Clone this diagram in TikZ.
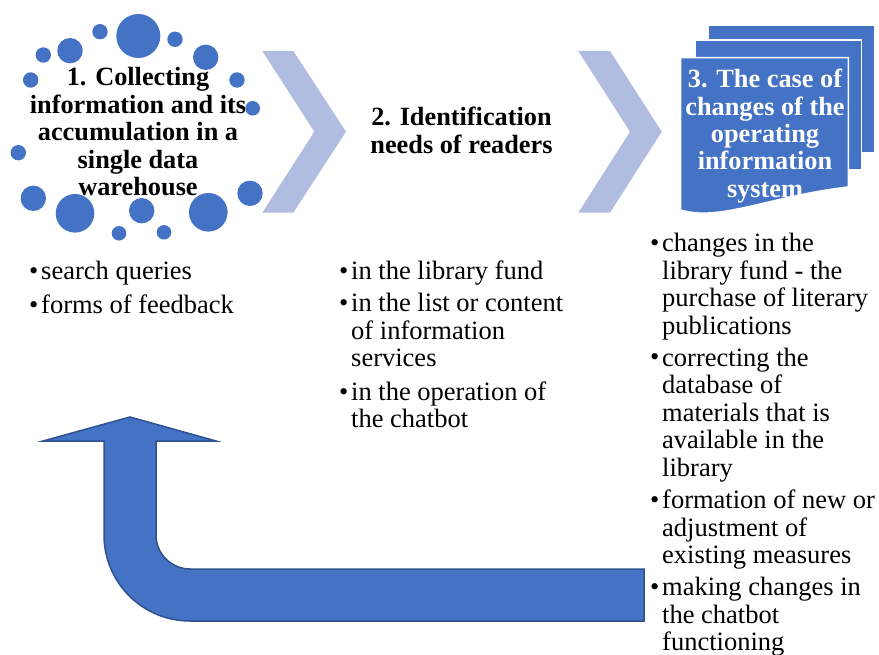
\documentclass[tikz,border=0pt]{standalone}
\usepackage{fontspec}
\setmainfont{Liberation Serif}
\definecolor{cblue}{RGB}{68,114,196}
\definecolor{cdark}{RGB}{47,82,143}
\definecolor{cchev}{RGB}{176,188,224}
% #1 name, #2 x of text, #3 first baseline, #4 number of extra lines, #5 text
\newcommand\myitem[5]{%
  \pgfmathsetmacro\lasty{#3+#4*27.5}%
  \node[itemtext] (#1) at (#2,\lasty) {#5};
  \node[bulletmark] (#1b) at (#2-2.5,#3) {•};}
\begin{document}
\begin{tikzpicture}[x=1pt,y=-1pt,
  title/.style={font=\fontsize{26.3}{27.4}\selectfont\bfseries, align=center, inner sep=0pt, anchor=base},
  itemtext/.style={font=\fontsize{26.5}{27.5}\selectfont, align=left, inner sep=0pt, anchor=base west},
  bulletmark/.style={font=\fontsize{26.5}{27.5}\selectfont, inner sep=0pt, anchor=base east},
  dot/.style={fill=cblue},
  chev/.style={fill=cchev},
  sheet/.style={fill=cblue, draw=white, line width=1.5pt},
  loop/.style={fill=cblue, draw=cdark, line width=1.5pt, line join=miter}]
\useasboundingbox (0,0) rectangle (879,655);
\fill[white] (0,0) rectangle (879,655);

% step 1: title (last baseline given) and circles
\node[title] (t1) at (138,195.6) {1. Collecting\\information and its\\accumulation in a\\single data\\warehouse};
\foreach \cx/\cy/\r in {138.3/36/22, 100/31.7/7.7, 175/39.3/7.7, 70/50.7/12.7, 43.3/55/7.7,
  205.7/57.3/12.7, 30.7/80/7.7, 237/80/7.7, 252.7/108.3/7.3, 18.3/152.7/7.7,
  33.3/198.3/12.7, 250/193.3/12.7, 75/213.3/19.3, 141.7/210.7/12.7, 208.3/212.3/19.3,
  119/233.3/7.3, 164/232.3/7.3}
  \fill[dot] (\cx,\cy) circle[radius=\r pt];

% chevrons
\fill[chev] (262.3,51) -- (293.3,51) -- (346,131.7) -- (293.3,212.7) -- (262.3,212.7) -- (314.3,131.7) -- cycle;
\fill[chev] (578.3,51) -- (610,51) -- (661.7,131.7) -- (610,212.7) -- (578.3,212.7) -- (630,131.7) -- cycle;

% step 2
\node[title] (t2) at (461.5,153.1) {2. Identification\\needs of readers};

% step 3: document stack
\draw[sheet] (708.3,25) rectangle (875,152.3);
\draw[sheet] (695,40) rectangle (861.7,170);
\draw[sheet] (680.7,57.7) -- (848.3,57.7) -- (848.3,187)
  .. controls (770,196) and (720,222) .. (680.7,210) -- cycle;
\node[title, text=white] (t3) at (765,197.3) {3. The case of\\changes of the\\operating\\information\\system};

% feedback arrow
\draw[loop] (130,417) -- (216,441) -- (156,441) -- (156,535)
  arc[start angle=180, end angle=270, radius=34pt] -- (644,569) -- (644,621) -- (190,621)
  arc[start angle=270, end angle=180, radius=86pt] -- (104,441) -- (43,441) -- cycle;

% bullet lists
\myitem{a1}{41}{280}{0}{search queries}
\myitem{a2}{41}{314}{0}{forms of feedback}

\myitem{b1}{351}{279.3}{0}{in the library fund}
\myitem{b2}{351}{311.7}{2}{in the list or content\\of information\\services}
\myitem{b3}{351}{400}{1}{in the operation of\\the chatbot}

\myitem{c1}{662}{251.7}{3}{changes in the\\library fund - the\\purchase of literary\\publications}
\myitem{c2}{662}{366}{4}{correcting the\\database of\\materials that is\\available in the\\library}
\myitem{c3}{662}{508.5}{2}{formation of new or\\adjustment of\\existing measures}
\myitem{c4}{662}{595.5}{2}{making changes in\\the chatbot\\functioning}
\end{tikzpicture}
\end{document}
